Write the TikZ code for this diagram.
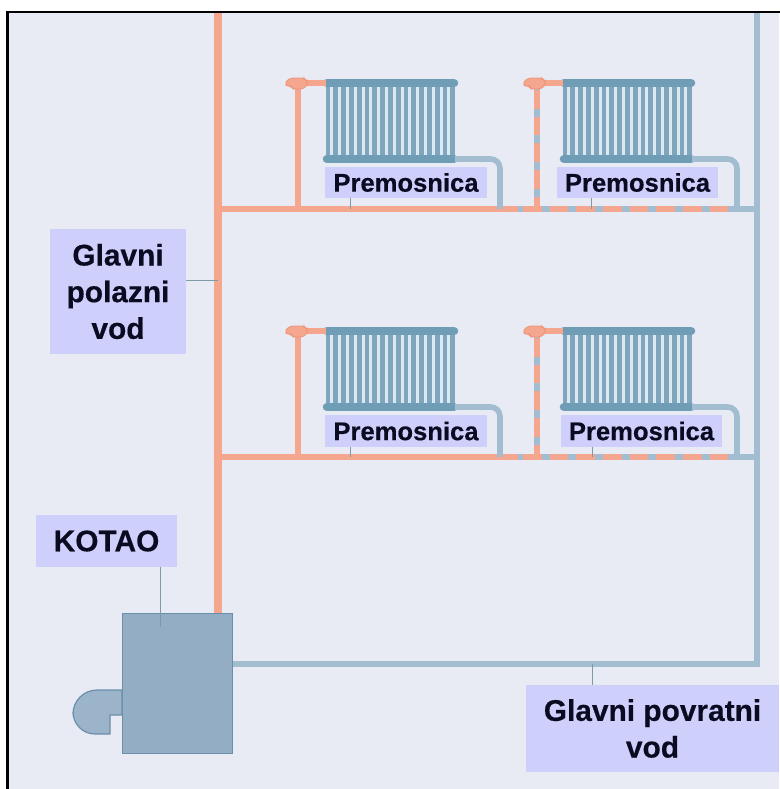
\documentclass[tikz,border=0pt]{standalone}
\usepackage{fontspec}
\setmainfont{Liberation Sans}[BoldFeatures={FakeBold=0.4}]
\definecolor{paper}{HTML}{E8EBF3}
\definecolor{hot}{HTML}{F5A68E}
\definecolor{hotedge}{HTML}{EE9475}
\definecolor{cold}{HTML}{A3BDD0}
\definecolor{finlight}{HTML}{DCE8F2}
\definecolor{rad}{HTML}{6E9DB5}
\definecolor{radfin}{HTML}{7FA6BC}
\definecolor{boiler}{HTML}{92ADC4}
\definecolor{boileredge}{HTML}{6B8FAB}
\definecolor{tag}{HTML}{CFCFFB}
\definecolor{leader}{HTML}{7E9AA6}
\definecolor{ink}{HTML}{0A0A20}
\tikzset{
  labelbox/.style={fill=tag,text=ink,font=\bfseries\fontsize{19.2}{27.5}\selectfont,align=center,inner sep=0pt},
  biglabel/.style={labelbox,font=\bfseries\fontsize{22.4}{27.5}\selectfont},
  hotmain/.style={draw=hot,line width=6pt},
  hotbranch/.style={draw=hot,line width=4.8pt},
  hotthin/.style={draw=hot,line width=5pt},
  coldmain/.style={draw=cold,line width=5.2pt},
  coldbranch/.style={draw=cold,line width=4pt},
  coldthin/.style={draw=cold,line width=4.2pt,rounded corners=7pt},
  mixbase/.style={draw=cold,line width=4.4pt},
  mixdash/.style={draw=hot,line width=4.8pt,dash pattern=on 14pt off 6pt},
  leaderline/.style={draw=leader,line width=0.7pt},
  finstyle/.style={draw=radfin,line width=3.6pt},
  headerstyle/.style={draw=rad,line width=6.4pt,line cap=round},
}
\newcommand{\radiator}[3]{% name, x, y of top header
  \fill[finlight] (#2,#3) rectangle (#2+125,#3+76);
  \foreach \i in {0,...,16}{
    \draw[finstyle] ({#2+\i*7.8},#3) -- ({#2+\i*7.8},#3+76);
  }
  \draw[headerstyle] (#2-1,#3) -- (#2+126,#3);
  \draw[headerstyle] (#2-1,#3+76) -- (#2+126,#3+76);
  \coordinate (#1In) at (#2-2,#3);
  \coordinate (#1Out) at (#2+127,#3+76);
}
\newcommand{\valve}[3]{% name, x, y
  \fill[hot,draw=hotedge,line width=.6pt,rounded corners=2pt] (#2-12,#3-2) -- (#2-7,#3-5) -- (#2+6,#3-5) -- (#2+9,#3-2) -- (#2+9,#3+2) -- (#2+5,#3+6) -- (#2-5,#3+6) -- (#2-7,#3+3) -- (#2-12,#3+3) -- cycle;
  \coordinate (#1) at (#2,#3);
}
\begin{document}
\begin{tikzpicture}[x=0.75pt,y=-0.75pt]
\useasboundingbox (0,0) rectangle (779,789);
\fill[white] (0,0) rectangle (779,789);
\fill[paper] (7,12) rectangle (779,789);

% junctions
\coordinate (hotTop) at (218,13);
\coordinate (coldTop) at (757,13);
\coordinate (f1) at (218,209);
\coordinate (f2) at (218,457);
\coordinate (r1) at (757,209);
\coordinate (r2) at (757,457);
\coordinate (riserA1) at (298,209);
\coordinate (riserA2) at (298,457);
\coordinate (riserB1) at (537,209);
\coordinate (riserB2) at (537,457);
\coordinate (split1) at (518,209);
\coordinate (split2) at (518,457);
\coordinate (dashEnd1) at (735,209);
\coordinate (dashEnd2) at (735,457);

% boiler
\node[draw=boileredge,fill=boiler,line width=.9pt,minimum width=82.5pt,minimum height=105pt,inner sep=0pt,anchor=north west] (kotao) at (122,613) {};
\draw[draw=boileredge,fill=boiler!92!white,line width=.9pt] (122,690) -- (97,690) arc[start angle=90,end angle=180,radius=18pt] -- (73,712) arc[start angle=180,end angle=270,radius=16.5pt] -- (110,734) -- (110,715) -- (122,715) -- cycle;

% main pipes
\draw[hotmain] (hotTop) -- (kotao.north -| hotTop);
\draw[coldmain] (coldTop) -- (757,664) -- (kotao.east |- 0,664);

% branches
\draw[coldbranch] (split1) -- (r1);
\draw[coldbranch] (split2) -- (r2);
\draw[hotbranch] (f1) -- (split1);
\draw[hotbranch] (f2) -- (split2);
\draw[mixdash] (split1) ++(5,0) -- (dashEnd1);
\draw[mixdash] (split2) ++(5,0) -- (dashEnd2);

% radiators
\radiator{ra}{328}{83}
\radiator{rb}{565}{83}
\radiator{rc}{328}{331}
\radiator{rd}{565}{331}

% valves and risers
\draw[hotthin] (298,83) -- (raIn);
\draw[hotthin] (536,83) -- (rbIn);
\draw[hotthin] (298,331) -- (rcIn);
\draw[hotthin] (536,331) -- (rdIn);
\draw[hotthin] (298,83) -- (riserA1);
\draw[hotthin] (298,331) -- (riserA2);
\draw[mixbase] (537,83) -- (riserB1);
\draw[mixdash] (537,90) -- (riserB1);
\draw[mixbase] (537,331) -- (riserB2);
\draw[mixdash] (537,338) -- (riserB2);
\valve{va}{298}{83}
\valve{vb}{536}{83}
\valve{vc}{298}{331}
\valve{vd}{536}{331}

% radiator returns
\draw[coldthin] (raOut) -- (500,159) -- (500,209);
\draw[coldthin] (rbOut) -- (737,159) -- (737,209);
\draw[coldthin] (rcOut) -- (500,407) -- (500,457);
\draw[coldthin] (rdOut) -- (737,407) -- (737,457);

% labels
\node[labelbox,minimum width=121.5pt,minimum height=23.5pt] (p1) at (406,182.5) {Premosnica};
\node[labelbox,minimum width=120.75pt,minimum height=23.5pt] (p2) at (637.5,182.5) {Premosnica};
\node[labelbox,minimum width=121.5pt,minimum height=24pt] (p3) at (406,431) {Premosnica};
\node[labelbox,minimum width=120.75pt,minimum height=24pt] (p4) at (641.5,431) {Premosnica};
\node[biglabel,minimum width=102pt,minimum height=94pt] (gp) at (118,291.5) {Glavni\\polazni\\vod};
\node[biglabel,minimum width=106pt,minimum height=39pt] (ko) at (106.5,541) {KOTAO};
\node[biglabel,minimum width=190pt,minimum height=65pt] (gr) at (652.5,728.5) {Glavni povratni\\vod};

% leaders
\draw[leaderline] (p1.south -| 350,0) -- (350,209);
\draw[leaderline] (p2.south -| 591,0) -- (591,209);
\draw[leaderline] (p3.south -| 350,0) -- (350,457);
\draw[leaderline] (p4.south -| 592,0) -- (592,457);
\draw[leaderline] (gp.east |- 0,280) -- (218,280);
\draw[leaderline] (ko.south -| 160.7,0) -- (160.7,627);
\draw[leaderline] (gr.north -| 592,0) -- (592,664);

% frame
\draw[black,line width=1.6pt] (7.5,800) -- (7.5,12) -- (790,12);
\end{tikzpicture}
\end{document}
